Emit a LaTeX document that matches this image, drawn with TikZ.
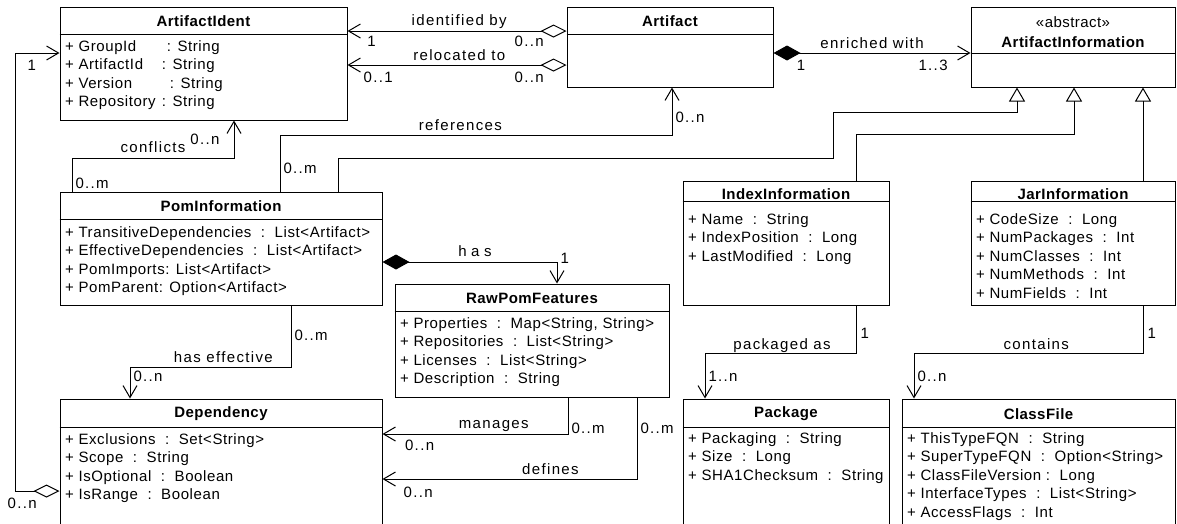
\documentclass[tikz,border=0pt]{standalone}
\usepackage{fontspec}
\setmainfont{Liberation Sans}
\newfontfamily\attrfont{Liberation Sans}[LetterSpace=4]
\newfontfamily\lblfont{Liberation Sans}[LetterSpace=9]
\newfontfamily\titlefont{Liberation Sans}[LetterSpace=3]
\usetikzlibrary{arrows.meta, calc, fit}

\newcommand{\attrsep}{\ \ :\ \ }

\tikzset{
  classbox/.style={draw, inner sep=0pt},
  classtitle/.style={font=\titlefont\bfseries\fontsize{15}{20}\selectfont, align=center, inner sep=0pt},
  classattr/.style={font=\attrfont\fontsize{15}{18}\selectfont, anchor=west, inner sep=0pt, text height=11pt, text depth=0pt},
  lbl/.style={font=\lblfont\fontsize{15}{18}\selectfont, inner sep=0pt, text height=11pt, text depth=0pt},
  assoc/.style={-{Straight Barb[length=12pt,width=14pt]}},
  aggr/.style={{Diamond[open,length=26pt,width=13pt]}-{Straight Barb[length=12pt,width=14pt]}},
  comp/.style={{Diamond[length=27pt,width=15pt]}-{Straight Barb[length=12pt,width=14pt]}},
  inherit/.style={-{Triangle[open,length=14pt,width=16pt]}},
}

% #1 name, #2 #3 corners, #4 header line y, #5 title y, #6 first attribute y,
% #7 title, #8 attributes
\newcommand{\umlclass}[8]{%
  \node[classbox, fit={#2 #3}] (#1) {};
  \draw (#1.west |- 0,#4) -- (#1.east |- 0,#4);
  \node[classtitle] (#1-title) at (#1.north |- 0,#5) {#7};
  \foreach \a [count=\i] in {#8}
    \node[classattr] (#1-\i) at ([xshift=5pt]#1.west |- 0,{#6+18.4*(\i-1)}) {\a};
}

\begin{document}
\begin{tikzpicture}[x=1pt, y=-1pt, line width=1pt]
\useasboundingbox (0,0) rectangle (1177,523);
\clip (0,0) rectangle (1177,523);

% classes
\umlclass{ident}{(60,7)}{(347,120)}{34}{21}{46}{ArtifactIdent}{
  \makebox[102pt][l]{+ GroupId}: String,
  \makebox[97pt][l]{+ ArtifactId}: String,
  \makebox[105pt][l]{+ Version}: String,
  \makebox[97pt][l]{+ Repository}: String}
\umlclass{art}{(567,7)}{(773,87)}{34}{21}{46}{Artifact}{}
\umlclass{ainfo}{(971,7)}{(1175,87)}{53}{32}{60}{{\mdseries «abstract»}\\ArtifactInformation}{}
\umlclass{pom}{(60,192)}{(382,305)}{219}{206}{232}{PomInformation}{
  + TransitiveDependencies\attrsep List<Artifact>,
  + EffectiveDependencies\attrsep List<Artifact>,
  + PomImports: List<Artifact>,
  + PomParent: Option<Artifact>}
\umlclass{raw}{(395,284)}{(669,397)}{311}{298}{323}{RawPomFeatures}{
  {+ Properties\attrsep Map<String, String>},
  + Repositories\attrsep List<String>,
  + Licenses\attrsep List<String>,
  + Description\attrsep String}
\umlclass{idx}{(683,181)}{(889,305)}{201}{194}{219}{IndexInformation}{
  + Name\attrsep String,
  + IndexPosition\attrsep Long,
  + LastModified\attrsep Long}
\umlclass{jar}{(971,181)}{(1175,305)}{201}{194}{219}{JarInformation}{
  + CodeSize\attrsep Long,
  + NumPackages\attrsep Int,
  + NumClasses\attrsep Int,
  + NumMethods\attrsep Int,
  + NumFields\attrsep Int}
\umlclass{dep}{(60,399)}{(382,540)}{427}{414}{439}{Dependency}{
  + Exclusions\attrsep Set<String>,
  + Scope\attrsep String,
  + IsOptional\attrsep Boolean,
  + IsRange\attrsep Boolean}
\umlclass{pkg}{(683,399)}{(889,540)}{427}{414}{438}{Package}{
  + Packaging\attrsep String,
  + Size\attrsep Long,
  + SHA1Checksum\attrsep String}
\umlclass{cls}{(902,399)}{(1175,540)}{427}{414}{438}{ClassFile}{
  + ThisTypeFQN\attrsep String,
  + SuperTypeFQN\attrsep Option<String>,
  + ClassFileVersion :\ \ Long,
  + InterfaceTypes\attrsep List<String>,
  + AccessFlags\attrsep Int}

% artifact relations
\draw[aggr] (art.west |- 0,31) -- (ident.east |- 0,31)
  node[lbl, pos=.49, yshift=11pt] {identified by}
  node[lbl, pos=.89, yshift=-10pt] {1}
  node[lbl, pos=.17, yshift=-10pt] {0..n};
\draw[aggr] (art.west |- 0,65) -- (ident.east |- 0,65)
  node[lbl, pos=.49, yshift=10pt] {relocated to}
  node[lbl, pos=.86, yshift=-12pt] {0..1}
  node[lbl, pos=.17, yshift=-12pt] {0..n};
\draw[comp] (art.east |- 0,53) -- (ainfo.west |- 0,53)
  node[lbl, pos=.5, yshift=10pt] {enriched with}
  node[lbl, pos=.14, yshift=-12pt] {1}
  node[lbl, pos=.81, yshift=-12pt] {1..3};

% generalizations
\draw[inherit] (pom.north -| 338,0) |- (833,158) |- (1017,112) -- (ainfo.south -| 1017,0);
\draw[inherit] (idx.north -| 856,0) |- (1074,134) -- (ainfo.south -| 1074,0);
\draw[inherit] (jar.north -| 1143,0) -- (ainfo.south -| 1143,0);

% pom relations
\draw[assoc] (pom.north -| 72,0) |- (234,158)
  node[lbl, pos=.13, anchor=west, xshift=3pt] {0..m}
  node[lbl, pos=.75, yshift=11pt] {conflicts}
  -- (ident.south -| 234,0)
  node[lbl, pos=.5, anchor=east, xshift=-14pt] {0..n};
\draw[assoc] (pom.north -| 280,0) |- (672,135)
  node[lbl, pos=.21, anchor=west, xshift=3pt] {0..m}
  node[lbl, pos=.73, yshift=10pt] {references}
  -- (art.south -| 672,0)
  node[lbl, pos=.37, anchor=west, xshift=3pt] {0..n};
\draw[comp] (pom.east |- 0,262) -| (raw.north -| 557,0)
  node[lbl, pos=.265, yshift=11pt] {\addfontfeature{LetterSpace=30}has}
  node[lbl, pos=.5, anchor=west, xshift=3pt, yshift=4pt] {1};
\draw[assoc] (pom.south -| 291,0) |- (130,367)
  node[lbl, pos=.24, anchor=west, xshift=3pt] {0..m}
  node[lbl, pos=.71, yshift=10pt] {has effective}
  -- (dep.north -| 130,0)
  node[lbl, pos=.3, anchor=west, xshift=3pt] {0..n};

% raw pom features to dependencies
\draw[assoc] (raw.south -| 568,0) |- (dep.east |- 0,434)
  node[lbl, pos=.42, anchor=west, xshift=3pt] {0..m}
  node[lbl, pos=.70, yshift=11pt] {manages}
  node[lbl, pos=.90, yshift=-11pt] {0..n};
\draw[assoc] (raw.south -| 637,0) |- (dep.east |- 0,479)
  node[lbl, pos=.19, anchor=west, xshift=3pt] {0..m}
  node[lbl, pos=.67, yshift=10pt] {defines}
  node[lbl, pos=.93, yshift=-13pt] {0..n};

% dependency back to its identifier
\draw[aggr] (dep.west |- 0,491) -| (15,53)
  node[lbl, pos=.42, yshift=-12pt] {0..n}
  -- (ident.west |- 0,53)
  node[lbl, pos=.38, yshift=-12pt] {1};

% index and jar contents
\draw[assoc] (idx.south -| 856,0) |- (705,353)
  node[lbl, pos=.29, anchor=west, xshift=4pt] {1}
  node[lbl, pos=.745, yshift=9pt] {packaged as}
  -- (pkg.north -| 705,0)
  node[lbl, pos=.5, anchor=west, xshift=3pt] {1..n};
\draw[assoc] (jar.south -| 1143,0) |- (914,353)
  node[lbl, pos=.29, anchor=west, xshift=4pt] {1}
  node[lbl, pos=.733, yshift=9pt] {contains}
  -- (cls.north -| 914,0)
  node[lbl, pos=.5, anchor=west, xshift=3pt] {0..n};
\end{tikzpicture}
\end{document}
